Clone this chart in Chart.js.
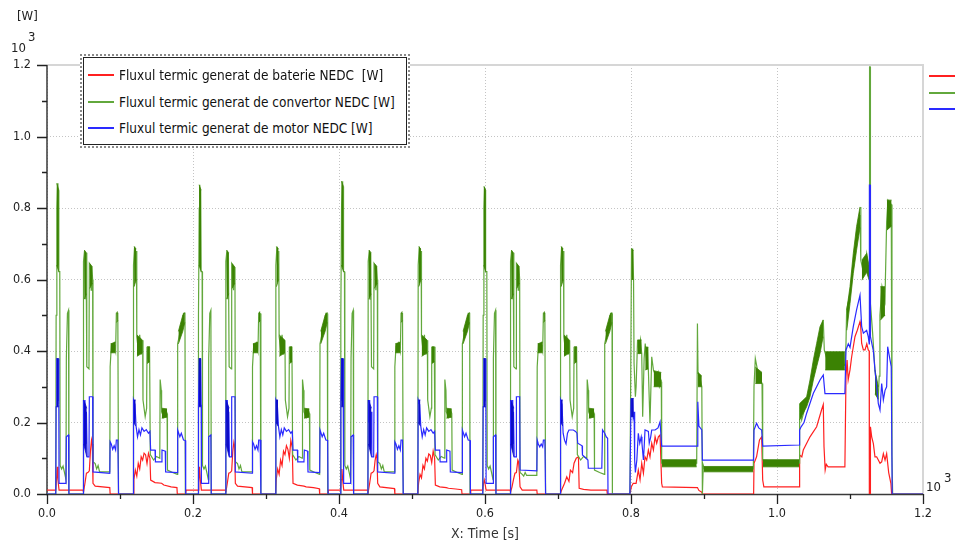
<!DOCTYPE html>
<html><head><meta charset="utf-8">
<script src="https://cdn.jsdelivr.net/npm/chart.js@4.4.1/dist/chart.umd.min.js"></script>
<style>
html,body{margin:0;padding:0;background:#fff;}
#wrap{position:relative;width:955px;height:547px;overflow:hidden;background:#fff;font-family:"DejaVu Sans Condensed","DejaVu Sans",sans-serif;color:#222;}
canvas{position:absolute;left:0;top:0;}
.t{position:absolute;font-size:13px;line-height:13px;white-space:nowrap;}
#legend{position:absolute;left:80px;top:54px;width:324px;height:88px;border:2px dotted #8a8a8a;background:#fff;padding:1px;}
#legend .in{border:1px solid #222;width:100%;height:100%;box-sizing:border-box;}
.sw{position:absolute;height:2px;}
.lt{position:absolute;font-size:13.5px;line-height:16px;white-space:pre;color:#111;}
</style></head>
<body>
<div id="wrap">
<canvas id="c" width="955" height="547"></canvas>
<div class="t" style="left:17px;top:9px;">[W]</div>
<div class="t" style="left:11px;top:41px;">10</div>
<div class="t" style="left:28px;top:30px;">3</div>
<div class="t" style="left:926px;top:480px;">10</div>
<div class="t" style="left:944px;top:471px;">3</div>
<div id="legend"><div class="in"></div></div>
<div id="legendItems"></div>
</div>
<script>
// ---------- DATA (time in s, heat flux in W) ----------
const legendLabels = [
  'Fluxul termic generat de baterie NEDC  [W]',
  'Fluxul termic generat de convertor NEDC [W]',
  'Fluxul termic generat de motor NEDC [W]'
];
const xTickValues = [0, 200, 400, 600, 800, 1000, 1200];
const yTickValues = [0, 200, 400, 600, 800, 1000, 1200];
const xMinorTicks = [100, 300, 500, 700, 900, 1100];
const yMinorTicks = [100, 300, 500, 700, 900, 1100];

const bateriePts = [
[0,11],[12,11],[13,40],[14,76],[15,40],[16.5,11],[49.6,11],[50,5],[52,30],[54,58],[56,60],[58,65],[59.5,120],[61,151],[62,140],[63,30],[66,22],[86,18],[86.5,0],
[118,0],[119,40],[121,67],[123,50],[125,86],[127,70],[129,104],[131,95],[133,114],[135,110],[137,85],[139,114],[141,100],[142,39],[148,32],[157,30],[160,25],[170,20],[178,18],[178.5,0],[190,0],
[190.5,11],[207,11],[208,40],[209,76],[210,40],[211.5,11],[244.6,11],[245,5],[247,30],[249,58],[251,60],[253,65],[254.5,120],[256,145],[257,135],[258,30],[261,22],[281,18],[281.5,0],
[313,0],[314,40],[316,70],[318,55],[320,95],[322,80],[324,120],[326,110],[328,135],[330,125],[332,100],[334,150],[336,130],[337,30],[343,25],[352,22],[355,20],[365,18],[373,15],[373.5,0],[385,0],
[385.5,11],[402,11],[403,40],[404,70],[405,40],[406.5,11],[439.6,11],[440,5],[442,30],[444,58],[446,60],[448,65],[449.5,95],[451,110],[452,100],[453,30],[456,20],[476,15],[476.5,0],
[508,0],[509,30],[511,55],[513,45],[515,80],[517,70],[519,100],[521,92],[523,112],[525,108],[527,88],[529,120],[531,100],[532,25],[538,20],[547,18],[550,16],[560,14],[568,12],[568.5,0],[580,0],
[580.5,11],[597,11],[598,30],[599,39],[600,30],[601.5,11],[634.6,11],[635,5],[637,20],[639,40],[641,58],[643,60],[645,95],[646,90],[647,60],[648,20],[651,11],[671,11],[671.5,0],
[703,0],[705,11],[709,30],[712,48],[715,35],[717,67],[720,60],[722,86],[725,100],[728,104],[729,16],[735,13],[745,11],[767,11],[767.5,0],[798.5,0],
[800.5,20],[803,30],[807,30],[810,67],[812.4,40],[814.7,86],[817,58],[819.2,104],[821.5,95],[823.8,123],[826,104],[828.4,142],[830.7,123],[833,160],[835.2,142],[837.5,160],[839.8,165],[842,30],[843,20],[891,18],[893,10],[897,5],[897.8,0],[968,0],[968.5,86],[972,104],[976,151],[979,160],[980.4,39],[982,20],[1030.6,20],
[1031,109],[1034,104],[1036,123],[1045.2,160],[1054.3,188],[1061,235],[1063.4,250],[1064.4,132],[1066,67],[1067.5,83],[1070,76],[1093,76],[1094.5,328],[1096,375],[1097.5,319],[1100,347],[1102.3,384],[1106.8,440],[1110,458],[1113.7,482],[1114.6,470],[1116,421],[1118.3,403],[1120.6,403],[1123,420],[1125,403],[1126.3,400],[1126.5,0],[1127.4,0],[1128,188],[1129.7,160],[1132,141],[1134.2,104],[1136.5,104],[1138.8,95],[1141.1,86],[1143.4,90],[1145.7,113],[1148,95],[1150.2,113],[1153,60],[1156,30],[1157,0],[1200,0]
];

const convertorPts = [
[0,0],[12,0],[12.5,500],[13.5,800],[14.3,869],[15,640],[15.5,850],[16.2,622],[17.5,622],[18,80],[20,70],[22,78],[24,60],[26,40],[26.5,380],[28,505],[29.5,514],[30,0],
[49.6,0],[50,650],[51.5,682],[52.5,545],[53.5,675],[54.5,356],[57.5,350],[58,645],[59.5,640],[60.5,570],[61.5,635],[62.5,600],[63,90],[66,85],[68,70],[70,80],[72,62],[86,62],[86.5,356],[88,410],[90,400],[92,420],[94,400],[95,505],[97,505],[98,0],
[118,0],[118.5,640],[120,692],[121.5,600],[122.5,680],[123,440],[125,405],[127,445],[129,390],[131,430],[131.5,263],[134.5,216],[136.5,240],[137,412],[139,370],[140.5,412],[141.5,110],[146,95],[150,105],[154.5,100],[155,320],[156.5,290],[157,230],[160,215],[163,235],[164.5,225],[165,67],[172,60],[178.5,55],[179,420],[182,450],[185,470],[187,505],[189,505],[189.5,0],
[207,0],[207.5,500],[208.5,800],[209.3,865],[210,640],[210.5,850],[211.2,622],[212.5,622],[213,80],[215,70],[217,78],[219,60],[221,40],[221.5,380],[223,505],[224.5,514],[225,0],
[244.6,0],[245,650],[246.5,682],[247.5,545],[248.5,675],[249.5,356],[252.5,350],[253,645],[254.5,640],[255.5,570],[256.5,635],[257.5,600],[258,90],[261,85],[263,70],[265,80],[267,62],[281,62],[281.5,356],[283,410],[285,400],[287,420],[289,400],[290,505],[292,505],[293,0],
[313,0],[313.5,640],[315,692],[316.5,600],[317.5,680],[318,440],[320,405],[322,445],[324,390],[326,430],[326.5,263],[329.5,216],[331.5,240],[332,412],[334,370],[335.5,412],[336.5,110],[341,95],[345,105],[349.5,100],[350,320],[351.5,290],[352,230],[355,215],[358,235],[359.5,225],[360,67],[367,60],[373.5,55],[374,420],[377,450],[380,470],[382,505],[384,505],[384.5,0],
[402,0],[402.5,500],[403.5,800],[404.3,875],[405,640],[405.5,860],[406.2,622],[407.5,622],[408,80],[410,70],[412,78],[414,60],[416,40],[416.5,380],[418,505],[419.5,514],[420,0],
[439.6,0],[440,650],[441.5,682],[442.5,545],[443.5,675],[444.5,356],[447.5,350],[448,645],[449.5,640],[450.5,570],[451.5,635],[452.5,600],[453,90],[456,85],[458,70],[460,80],[462,62],[476,62],[476.5,356],[478,410],[480,400],[482,420],[484,400],[485,505],[487,505],[488,0],
[508,0],[508.5,640],[510,692],[511.5,600],[512.5,680],[513,440],[515,405],[517,445],[519,390],[521,430],[521.5,263],[524.5,216],[526.5,240],[527,412],[529,370],[530.5,412],[531.5,110],[536,95],[540,105],[544.5,100],[545,320],[546.5,290],[547,230],[550,215],[553,235],[554.5,225],[555,67],[562,60],[568.5,55],[569,420],[572,450],[575,470],[577,505],[579,505],[579.5,0],
[597,0],[597.5,500],[598.5,800],[599.3,860],[600,640],[600.5,850],[601.2,622],[602.5,622],[603,80],[605,70],[607,78],[609,60],[611,40],[611.5,380],[613,505],[614.5,514],[615,0],
[634.6,0],[635,650],[636.5,682],[637.5,545],[638.5,675],[639.5,356],[642.5,350],[643,645],[644.5,640],[645.5,570],[646.5,635],[647.5,600],[648,60],[651,55],[653,50],[655,60],[657,52],[671,52],[671.5,356],[673,410],[675,400],[677,420],[679,400],[680,505],[682,505],[683,0],
[703,0],[703.5,640],[705,692],[706.5,600],[707.5,680],[708,440],[710,405],[712,445],[714,390],[716,430],[716.5,263],[719.5,216],[721.5,240],[722,412],[724,370],[725.5,412],[726.5,110],[731,95],[735,105],[739.5,100],[740,320],[741.5,290],[742,230],[745,215],[748,235],[749.5,225],[750,67],[757,60],[763.5,55],[764,420],[767,450],[770,470],[772,505],[774,505],[774.5,0],
[798.5,0],[799.5,290],[800.7,687],[801.5,610],[802.3,687],[803.5,600],[804.2,365],[806,272],[807,300],[809,431],[811,400],[813,431],[814.7,393],[816,216],[818,380],[819.5,421],[821,380],[823,412],[823.8,347],[826,198],[828.4,384],[830.7,347],[833,335],[835.2,328],[837,340],[838.9,300],[841.5,314],[842,86],[890,86],[891,477],[891.8,340],[895,320],[897,300],[897.8,0],[899,80],[901,67],[904.6,70],[967.6,70],[968.5,300],[970.3,379],[973,350],[976,330],[979.5,309],[980.4,95],[1030.6,86],
[1031,253],[1033.8,207],[1040.6,258],[1045.2,296],[1049.8,347],[1054.3,388],[1058.9,430],[1063.4,487],[1064.8,403],[1068,380],[1093,360],[1094.5,420],[1095.4,515],[1100,560],[1104.5,645],[1109,715],[1113.7,780],[1114.6,803],[1115,654],[1118.3,620],[1122.8,673],[1126.3,610],[1126.8,1195],[1127.6,1195],[1128,533],[1131,450],[1134.2,347],[1136.5,300],[1138.8,272],[1140,330],[1141,500],[1143.8,580],[1147.9,540],[1148.5,600],[1150.2,760],[1152,822],[1156.5,810],[1157.5,108],[1158.4,0],[1200,0]
];

// dense oscillation bands of the convertor trace: [time, low, high]; null separates bands
const convertorNoise = [
[13.3,640,869],[16.2,622,850],null,[51,545,682],[54,560,675],null,[58.5,575,645],[62.3,590,635],null,[87,395,420],[94,395,425],null,[95.2,480,508],[97,485,510],null,
[119.3,580,692],[122.3,600,685],null,[123.2,385,445],[131,395,430],null,[137.2,365,412],[140.8,370,412],null,[157.2,212,240],[164.5,215,238],null,[180,420,455],[186,455,500],[188.8,480,508],null,
[208.3,640,865],[211.2,622,850],null,[246,545,682],[249,560,675],null,[253.5,575,645],[257.3,590,635],null,[282,395,420],[289,395,425],null,[290.2,480,508],[292,485,510],null,
[314.3,580,692],[317.3,600,685],null,[318.2,385,445],[326,395,430],null,[332.2,365,412],[335.8,370,412],null,[352.2,212,240],[359.5,215,238],null,[375,420,455],[381,455,500],[383.8,480,508],null,
[403.3,640,875],[406.2,622,860],null,[441,545,682],[444,560,675],null,[448.5,575,645],[452.3,590,635],null,[477,395,420],[484,395,425],null,[485.2,480,508],[487,485,510],null,
[509.3,580,692],[512.3,600,685],null,[513.2,385,445],[521,395,430],null,[527.2,365,412],[530.8,370,412],null,[547.2,212,240],[554.5,215,238],null,[570,420,455],[576,455,500],[578.8,480,508],null,
[598.3,640,860],[601.2,622,850],null,[636,545,682],[639,560,675],null,[643.5,575,645],[647.3,590,635],null,[672,395,420],[679,395,425],null,[680.2,480,508],[682,485,510],null,
[704.3,580,692],[707.3,600,685],null,[708.2,385,445],[716,395,430],null,[722.2,365,412],[725.8,370,412],null,[742.2,212,240],[749.5,215,238],null,[765,420,455],[771,455,500],[773.8,480,508],null,
[800.7,600,687],[803.5,600,680],null,[809,393,431],[814.5,393,431],null,[819.5,347,412],[823.5,350,410],null,[831,300,345],[841.5,300,340],null,
[842.3,76,96],[890,76,96],null,[891.8,300,340],[897,300,330],null,[899.5,62,77],[967.5,62,77],null,[970.3,309,355],[979.5,309,340],null,[980.8,76,96],[1030.4,76,96],null,
[1031,207,253],[1040.6,244,272],[1045.2,272,319],[1049.8,319,375],[1054.3,356,421],[1058.9,393,468],[1063.2,440,487],null,
[1066,347,398],[1093,347,398],null,[1095.6,458,515],[1100,533,580],[1104.5,617,673],[1109,682,748],[1113.7,745,803],null,
[1116.2,598,654],[1122.8,620,673],[1126.3,598,636],null,[1134.2,280,347],[1138.8,265,300],null,[1141.5,486,580],[1147.9,500,580],null,[1150.5,738,822],[1157,750,822]
];

const motorPts = [
[0,0],[12,0],[12.5,244],[13.5,379],[14.5,260],[15.5,379],[16.2,250],[16.5,30],[26,30],[26.5,160],[29.5,165],[30,0],
[49.6,0],[50,263],[51,200],[52,263],[53,140],[54,230],[55,104],[57.5,104],[58,272],[62.5,272],[63,62],[86,58],[86.5,146],[88,140],[90,125],[92,135],[94,123],[95,151],[97,151],[98,0],
[118,0],[118.5,263],[120.5,250],[122,190],[124,160],[126,180],[128,165],[130,185],[133,175],[136,180],[139,170],[141,175],[142,123],[148,123],[148.5,90],[157,90],[157.5,123],[162,120],[162.5,62],[178.5,60],[179,179],[182,160],[184,170],[187,151],[189.5,150],[190,0],
[207,0],[207.5,244],[208.5,379],[209.5,260],[210.5,379],[211.2,250],[211.5,30],[221,30],[221.5,160],[224.5,165],[225,0],
[244.6,0],[245,263],[246,200],[247,263],[248,140],[249,230],[250,104],[252.5,104],[253,272],[257.5,272],[258,62],[281,58],[281.5,146],[283,140],[285,125],[287,135],[289,123],[290,151],[292,151],[293,0],
[313,0],[313.5,263],[315.5,250],[317,190],[319,160],[321,180],[323,165],[325,185],[328,175],[331,180],[334,170],[336,175],[337,123],[343,123],[343.5,90],[352,90],[352.5,123],[357,120],[357.5,62],[373.5,60],[374,179],[377,160],[379,170],[382,151],[384.5,150],[385,0],
[402,0],[402.5,244],[403.5,379],[404.5,260],[405.5,379],[406.2,250],[406.5,30],[416,30],[416.5,160],[419.5,165],[420,0],
[439.6,0],[440,263],[441,200],[442,263],[443,140],[444,230],[445,104],[447.5,104],[448,272],[452.5,272],[453,62],[476,58],[476.5,146],[478,140],[480,125],[482,135],[484,123],[485,151],[487,151],[488,0],
[508,0],[508.5,263],[510.5,250],[512,190],[514,160],[516,180],[518,165],[520,185],[523,175],[526,180],[529,170],[531,175],[532,123],[538,123],[538.5,90],[547,90],[547.5,123],[552,120],[552.5,62],[568.5,60],[569,179],[572,160],[574,170],[577,151],[579.5,150],[580,0],
[597,0],[597.5,244],[598.5,379],[599.5,260],[600.5,379],[601.2,250],[601.5,30],[611,30],[611.5,160],[614.5,165],[615,0],
[634.6,0],[635,263],[636,200],[637,263],[638,140],[639,230],[640,104],[642.5,104],[643,272],[647.5,272],[648,67],[671,65],[671.5,151],[673,140],[675,132],[677,140],[679,132],[680,151],[682,151],[683,0],
[703,0],[703.5,263],[705.5,250],[707,170],[709,150],[711,140],[713,170],[715,179],[718,179],[721,179],[724,175],[726,170],[727,142],[733,135],[733.5,109],[741,95],[741.5,72],[760,72],[761,179],[764,170],[766,160],[768,156],[768.5,0],
[798.5,0],[800,267],[801,216],[802,267],[803,216],[804.2,230],[805,95],[806,60],[808,95],[810,170],[812,142],[814,160],[815,142],[817,95],[818,130],[819.2,179],[823.8,175],[825,142],[827,160],[828.4,179],[833,179],[837,185],[839.8,202],[842,134],[891,134],[891.5,258],[893,190],[897,179],[897.8,95],[968,95],[968.5,179],[972,198],[975,185],[979,179],[980.4,134],[1030.6,137],
[1031,179],[1033,188],[1037,200],[1040.6,226],[1045.2,254],[1049.8,282],[1054.3,300],[1058.9,319],[1063.4,333],[1065.7,281],[1068,281],[1093,281],[1094.5,403],[1097.7,420],[1100,410],[1104.5,468],[1109,515],[1113.7,556],[1116,468],[1118.3,450],[1122.8,458],[1125,440],[1126.3,420],[1126.6,864],[1127.6,864],[1128,440],[1132,400],[1134.2,347],[1138.8,253],[1141.1,235],[1143.4,309],[1145.7,263],[1148,290],[1150.2,300],[1151.6,412],[1154,384],[1156.5,356],[1157.8,0],[1200,0]
];

const motorNoise = [
[13,244,379],[16,244,379],null,[50.3,140,263],[54.5,104,240],null,[118.8,200,263],[121.5,190,263],null,
[208,244,379],[211,244,379],null,[245.3,140,263],[249.5,104,240],null,[313.8,200,263],[316.5,190,263],null,
[403,244,379],[406,244,379],null,[440.3,140,263],[444.5,104,240],null,[508.8,200,263],[511.5,190,263],null,
[598,244,379],[601,244,379],null,[635.3,140,263],[639.5,104,240],null,[703.8,200,263],[706.5,190,263],null,
[800.2,216,267],[803.8,216,267]
];

// ---------- helpers ----------
const toXY = arr => arr.map(p => ({x: p[0], y: p[1]}));
function bandSide(tri, k) {
  const out = [];
  tri.forEach((p, i) => {
    if (p === null) out.push({x: tri[i - 1][0] + 0.05, y: null});
    else out.push({x: p[0], y: p[k]});
  });
  return out;
}

const RED = '#ff2020', GREEN = '#62a83c', GREEN_D = '#3b8203', BLUE = '#2a2aff', BLUE_D = '#0c0cc8';

const frame = {
  id: 'frame',
  beforeDatasetsDraw(chart) {
    const {ctx, chartArea: a} = chart;
    ctx.save();
    ctx.strokeStyle = '#d6d6d6'; ctx.lineWidth = 2;
    ctx.beginPath(); ctx.moveTo(a.left, a.top); ctx.lineTo(a.right, a.top); ctx.lineTo(a.right, a.bottom); ctx.stroke();
    ctx.strokeStyle = '#3a3a3a'; ctx.lineWidth = 1.5;
    ctx.beginPath(); ctx.moveTo(a.left, a.top); ctx.lineTo(a.left, a.bottom + 0.5); ctx.lineTo(a.right, a.bottom + 0.5); ctx.stroke();
    ctx.restore();
  },
  afterDraw(chart) {
    const {ctx, chartArea: a, scales: {x, y}} = chart;
    ctx.save();
    ctx.strokeStyle = '#222'; ctx.lineWidth = 1.3;
    ctx.beginPath();
    yTickValues.forEach(v => { const p = Math.round(y.getPixelForValue(v)) + 0.5; ctx.moveTo(a.left - 10, p); ctx.lineTo(a.left, p); });
    yMinorTicks.forEach(v => { const p = Math.round(y.getPixelForValue(v)) + 0.5; ctx.moveTo(a.left - 5, p); ctx.lineTo(a.left, p); });
    xTickValues.forEach(v => { const p = Math.round(x.getPixelForValue(v)) + 0.5; ctx.moveTo(p, a.bottom); ctx.lineTo(p, a.bottom + 10); });
    xMinorTicks.forEach(v => { const p = Math.round(x.getPixelForValue(v)) + 0.5; ctx.moveTo(p, a.bottom); ctx.lineTo(p, a.bottom + 5); });
    ctx.stroke();
    ctx.restore();
  }
};

const fontFam = '"DejaVu Sans Condensed","DejaVu Sans",sans-serif';
const line = (label, data, color, order, extra) => Object.assign({
  label, data, borderColor: color, backgroundColor: color, borderWidth: 1.2,
  pointRadius: 0, tension: 0, fill: false, order
}, extra || {});

new Chart(document.getElementById('c'), {
  type: 'line',
  data: {
    datasets: [
      line(legendLabels[0], toXY(bateriePts), RED, 7),
      line(legendLabels[1], toXY(convertorPts), GREEN, 6),
      line('convertor lo', bandSide(convertorNoise, 1), GREEN_D, 5, {borderWidth: 0.8}),
      line('convertor hi', bandSide(convertorNoise, 2), GREEN_D, 5, {borderWidth: 0.8, fill: '-1'}),
      line(legendLabels[2], toXY(motorPts), BLUE, 4),
      line('motor lo', bandSide(motorNoise, 1), BLUE_D, 3, {borderWidth: 0.8}),
      line('motor hi', bandSide(motorNoise, 2), BLUE_D, 3, {borderWidth: 0.8, fill: '-1'})
    ]
  },
  options: {
    responsive: false, animation: false, devicePixelRatio: 1,
    layout: {padding: {left: 0, right: 32, top: 65, bottom: 0}},
    plugins: {legend: {display: false}, tooltip: {enabled: false}},
    scales: {
      x: {
        type: 'linear', min: 0, max: 1200,
        afterBuildTicks: s => { s.ticks = xTickValues.map(v => ({value: v})); },
        afterFit: s => { s.height = 53; },
        grid: {color: '#c4c4c4', lineWidth: 1, drawTicks: false},
        border: {display: false, dash: [1, 2]},
        ticks: {callback: v => (v / 1000).toFixed(1), color: '#222', font: {family: fontFam, size: 12.5}, padding: 12, maxRotation: 0, autoSkip: false},
        title: {display: true, text: 'X: Time [s]', color: '#333', font: {family: fontFam, size: 14}, padding: {top: 0, bottom: 4}}
      },
      y: {
        min: 0, max: 1200,
        afterBuildTicks: s => { s.ticks = yTickValues.map(v => ({value: v})); },
        afterFit: s => { s.width = 47; },
        grid: {color: '#c4c4c4', lineWidth: 1, drawTicks: false},
        border: {display: false, dash: [1, 2]},
        ticks: {callback: v => (v / 1000).toFixed(1), color: '#222', font: {family: fontFam, size: 12.5}, padding: 16}
      }
    }
  },
  plugins: [frame]
});

// legend (HTML text)
const legendColors = [RED, GREEN, BLUE];
const legendY = [75, 102, 128];
const rightY = [76, 93, 109];
const li = document.getElementById('legendItems');
legendLabels.forEach((txt, i) => {
  const s = document.createElement('div'); s.className = 'sw';
  s.style.cssText = `left:88px;width:26px;top:${legendY[i] - 1}px;background:${legendColors[i]}`; li.appendChild(s);
  const t = document.createElement('div'); t.className = 'lt';
  t.style.cssText = `left:119px;top:${legendY[i] - 8}px;`; t.textContent = txt; li.appendChild(t);
  const r = document.createElement('div'); r.className = 'sw';
  r.style.cssText = `left:929px;width:26px;top:${rightY[i] - 1}px;background:${legendColors[i]}`; li.appendChild(r);
});
</script>
</body></html>
